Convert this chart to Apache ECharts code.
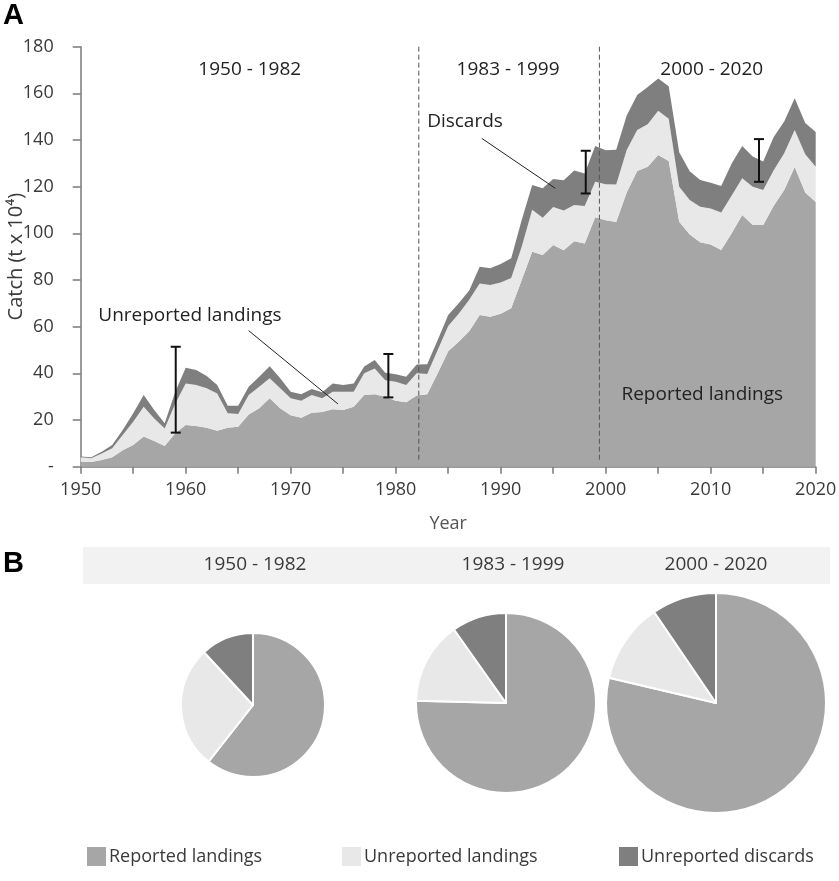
<!DOCTYPE html>
<html>
<head>
<meta charset="utf-8">
<script src="https://cdn.jsdelivr.net/npm/echarts@6/dist/echarts.min.js"></script>
<style>
  html, body { margin: 0; padding: 0; background: #fff; }
  #main { width: 839px; height: 881px; }
</style>
</head>
<body>
<div id="main"></div>
<script>
// years 1950 - 2020
var years = [];
for (var y = 1950; y <= 2020; y++) years.push(String(y));

// layer thickness (t x 10^4)
var reported = [2.1, 2.0, 2.9, 4.0, 7.1, 9.3, 12.9, 11.0, 8.9, 14.3,
  17.9, 17.4, 16.7, 15.4, 16.7, 17.1, 22.4, 25.0, 29.3, 25.0,
  22.1, 21.0, 23.1, 23.4, 24.6, 24.3, 25.7, 30.7, 31.1, 30.0,
  28.3, 27.6, 30.5, 31.1, 40.0, 49.5, 53.5, 58.0, 65.0, 64.3,
  65.5, 67.9, 80.0, 92.1, 90.7, 95.0, 92.8, 96.6, 95.7, 106.9,
  105.6, 104.9, 117.5, 126.7, 128.6, 133.6, 131.0, 105.0, 99.5, 96.2,
  95.2, 92.9, 100.0, 107.9, 103.6, 103.6, 111.8, 118.6, 128.4, 117.5,
  113.4];
var unreported = [1.9, 1.6, 2.8, 3.9, 6.5, 10.0, 12.8, 9.7, 7.5, 12.7,
  17.8, 17.6, 16.9, 16.0, 6.2, 5.5, 8.3, 9.3, 8.6, 8.6,
  7.2, 7.3, 7.6, 5.9, 7.5, 7.8, 6.4, 9.3, 11.0, 7.1,
  8.1, 7.4, 9.5, 8.6, 10.0, 10.8, 12.0, 13.5, 13.5, 13.6,
  13.4, 13.0, 14.3, 18.0, 16.0, 16.3, 17.0, 15.6, 16.0, 15.2,
  15.5, 16.0, 18.2, 17.6, 18.2, 19.0, 18.1, 15.0, 14.8, 15.2,
  15.5, 16.0, 16.2, 15.7, 16.4, 15.0, 15.3, 15.7, 15.9, 16.4,
  15.2];
var discards = [0.4, 0.4, 0.7, 1.4, 2.1, 3.6, 5.0, 3.6, 2.2, 5.0,
  6.7, 6.4, 5.3, 3.6, 3.2, 3.5, 3.6, 4.3, 5.2, 4.3,
  2.8, 2.8, 2.6, 2.6, 3.6, 2.9, 3.6, 2.9, 3.6, 3.2,
  3.2, 3.6, 3.8, 4.2, 4.3, 4.7, 4.5, 4.0, 7.2, 7.1,
  8.0, 8.4, 11.4, 10.6, 12.6, 12.0, 13.0, 14.7, 14.0, 15.3,
  14.5, 14.9, 14.8, 15.0, 15.9, 13.8, 14.0, 14.8, 12.3, 11.5,
  11.0, 11.4, 13.7, 13.8, 12.9, 12.2, 14.2, 13.6, 13.6, 13.4,
  14.8];

// error bars
var errYears = [1959.05, 1979.3, 1998.1, 2014.6];
var errLow = [14.6, 29.7, 117.1, 122.1];
var errHigh = [51.4, 48.3, 135.4, 140.4];

// period separators (dashed lines)
var periodBreaks = [1982.2, 1999.4];

// text annotations in panel A
var noteTexts = ['1950 - 1982', '1983 - 1999', '2000 - 2020', 'Unreported landings', 'Discards', 'Reported landings'];
var noteX = [1966.1, 1990.7, 2010.1, 1960.4, 1986.6, 2009.2];
var noteY = [170, 170, 170, 64.6, 147.7, 30.7];

// leader lines
var leaderFrom = [[1966.0, 58.3], [1988.2, 140.7]];
var leaderTo = [[1974.5, 26.9], [1995.2, 119.3]];

// panel B
var periods = ['1950 - 1982', '1983 - 1999', '2000 - 2020'];
var components = ['Reported landings', 'Unreported landings', 'Unreported discards'];
var shareReported = [60.6, 75.4, 78.7];
var shareUnreported = [27.5, 14.8, 11.8];
var shareDiscards = [11.9, 9.8, 9.5];

var cReported = '#a6a6a6';
var cUnreported = '#e8e8e9';
var cDiscards = '#7f7f7f';
var font = '"Open Sans", sans-serif';
var txt = '#3a3a3a';
var axisCol = '#7a7a7a';

var myChart = echarts.init(document.getElementById('main'));

var pieCenters = [[253, 705], [506, 703], [716, 703]];
var pieRadius = [72, 90, 110];
var pieSeries = periods.map(function (p, k) {
  return {
    type: 'pie',
    name: p,
    center: pieCenters[k],
    radius: pieRadius[k],
    startAngle: 90,
    label: { show: false },
    labelLine: { show: false },
    silent: true,
    itemStyle: { borderColor: '#fff', borderWidth: 2 },
    data: [
      { name: components[0], value: shareReported[k], itemStyle: { color: cReported } },
      { name: components[1], value: shareUnreported[k], itemStyle: { color: cUnreported } },
      { name: components[2], value: shareDiscards[k], itemStyle: { color: cDiscards } }
    ]
  };
});

var legendLeft = [80, 335, 612];
var legends = components.map(function (c, k) {
  return {
    data: [c],
    left: legendLeft[k],
    top: 840,
    icon: 'rect',
    itemWidth: 21,
    itemHeight: 21,
    itemGap: 6,
    selectedMode: false,
    textStyle: { fontFamily: font, fontSize: 18, color: txt, padding: [0, 0, 0, -3] }
  };
});

// stacked layers live on a hidden category axis (stacking needs a category base axis)
function areaSeries(name, arr, color) {
  return {
    name: name, type: 'line', stack: 'catch', symbol: 'none', silent: true,
    xAxisIndex: 0,
    lineStyle: { width: 0 }, itemStyle: { color: color },
    areaStyle: { color: color, opacity: 1 },
    data: arr
  };
}

var option = {
  backgroundColor: '#fff',
  animation: false,
  legend: legends,
  grid: { left: 80.7, right: 23.3, top: 46.7, bottom: 414.3, outerBoundsMode: 'none', containLabel: false },
  xAxis: [
    {
      type: 'category',
      data: years,
      boundaryGap: false,
      show: false
    },
    {
      type: 'value',
      min: 1950,
      max: 2020,
      interval: 10,
      position: 'bottom',
      name: 'Year',
      nameLocation: 'middle',
      nameGap: 48,
      nameTextStyle: { fontFamily: font, fontSize: 18, color: '#555' },
      axisLine: { lineStyle: { color: axisCol, width: 1.5 } },
      axisTick: { show: true, length: 7, lineStyle: { color: axisCol, width: 1.5 } },
      minorTick: { show: true, splitNumber: 2, length: 7, lineStyle: { color: axisCol, width: 1.5 } },
      axisLabel: {
        fontFamily: font, fontSize: 18, color: txt, margin: 14,
        formatter: function (v) { return String(v); }
      },
      splitLine: { show: false }
    }
  ],
  yAxis: {
    type: 'value',
    min: 0,
    max: 180,
    interval: 20,
    name: 'Catch (t x 10⁴)',
    nameLocation: 'middle',
    nameRotate: 90,
    nameGap: 54,
    nameMoveOverlap: false,
    nameTextStyle: { fontFamily: font, fontSize: 20, color: txt },
    axisLine: { show: true, lineStyle: { color: axisCol, width: 1.5 } },
    axisTick: { show: true, length: 8, lineStyle: { color: axisCol, width: 1.5 } },
    axisLabel: {
      fontFamily: font, fontSize: 18, color: txt, margin: 27,
      formatter: function (v) { return v === 0 ? '-' : v; }
    },
    splitLine: { show: false }
  },
  graphic: [
    { type: 'text', left: 3, top: 1, style: { text: 'A', font: 'bold 29px "Liberation Sans", Arial', fill: '#000' } },
    { type: 'text', left: 3, top: 549, style: { text: 'B', font: 'bold 29px "Liberation Sans", Arial', fill: '#000' } },
    { type: 'rect', shape: { x: 83, y: 547, width: 747, height: 37 }, style: { fill: '#f2f2f2' }, z: -1 },
    { type: 'text', x: 255, y: 565, style: { text: periods[0], font: '19px "Open Sans"', fill: txt, textAlign: 'center', textVerticalAlign: 'middle' } },
    { type: 'text', x: 513, y: 565, style: { text: periods[1], font: '19px "Open Sans"', fill: txt, textAlign: 'center', textVerticalAlign: 'middle' } },
    { type: 'text', x: 716, y: 565, style: { text: periods[2], font: '19px "Open Sans"', fill: txt, textAlign: 'center', textVerticalAlign: 'middle' } }
  ],
  series: [
    areaSeries('Reported', reported, cReported),
    areaSeries('Unreported', unreported, cUnreported),
    areaSeries('Discards', discards, cDiscards),
    {
      // dashed period separators
      type: 'custom',
      xAxisIndex: 1,
      silent: true,
      data: periodBreaks.map(function (b) { return [b, 180, 2.8]; }),
      encode: { x: 0, y: [1, 2] },
      renderItem: function (params, api) {
        var a = api.coord([api.value(0), api.value(1)]);
        var b = api.coord([api.value(0), api.value(2)]);
        return { type: 'line', shape: { x1: a[0], y1: a[1], x2: b[0], y2: b[1] }, style: { stroke: '#555', lineWidth: 1, lineDash: [5, 3] } };
      },
      z: 4
    },
    {
      // error bars
      type: 'custom',
      xAxisIndex: 1,
      silent: true,
      data: errYears.map(function (x, i) { return [x, errLow[i], errHigh[i]]; }),
      encode: { x: 0, y: [1, 2] },
      renderItem: function (params, api) {
        var lo = api.coord([api.value(0), api.value(1)]);
        var hi = api.coord([api.value(0), api.value(2)]);
        var st = { stroke: '#111', lineWidth: 2 };
        return {
          type: 'group',
          children: [
            { type: 'line', shape: { x1: lo[0], y1: lo[1], x2: hi[0], y2: hi[1] }, style: st },
            { type: 'line', shape: { x1: lo[0] - 5, y1: lo[1], x2: lo[0] + 5, y2: lo[1] }, style: st },
            { type: 'line', shape: { x1: hi[0] - 5, y1: hi[1], x2: hi[0] + 5, y2: hi[1] }, style: st }
          ]
        };
      },
      z: 5
    },
    {
      // leader lines
      type: 'custom',
      xAxisIndex: 1,
      silent: true,
      data: leaderFrom.map(function (f, i) { return [f[0], f[1], leaderTo[i][0], leaderTo[i][1]]; }),
      encode: { x: [0, 2], y: [1, 3] },
      renderItem: function (params, api) {
        var a = api.coord([api.value(0), api.value(1)]);
        var b = api.coord([api.value(2), api.value(3)]);
        return { type: 'line', shape: { x1: a[0], y1: a[1], x2: b[0], y2: b[1] }, style: { stroke: '#222', lineWidth: 1 } };
      },
      z: 5
    },
    {
      // annotation texts
      type: 'custom',
      xAxisIndex: 1,
      silent: true,
      data: noteX.map(function (x, i) { return [x, noteY[i]]; }),
      encode: { x: 0, y: 1 },
      renderItem: function (params, api) {
        var p = api.coord([api.value(0), api.value(1)]);
        return {
          type: 'text', x: p[0], y: p[1],
          style: { text: noteTexts[params.dataIndex], font: '19px "Open Sans"', fill: '#222', textAlign: 'center', textVerticalAlign: 'middle' }
        };
      },
      z: 6
    }
  ].concat(pieSeries)
};

myChart.setOption(option);
</script>
</body>
</html>
